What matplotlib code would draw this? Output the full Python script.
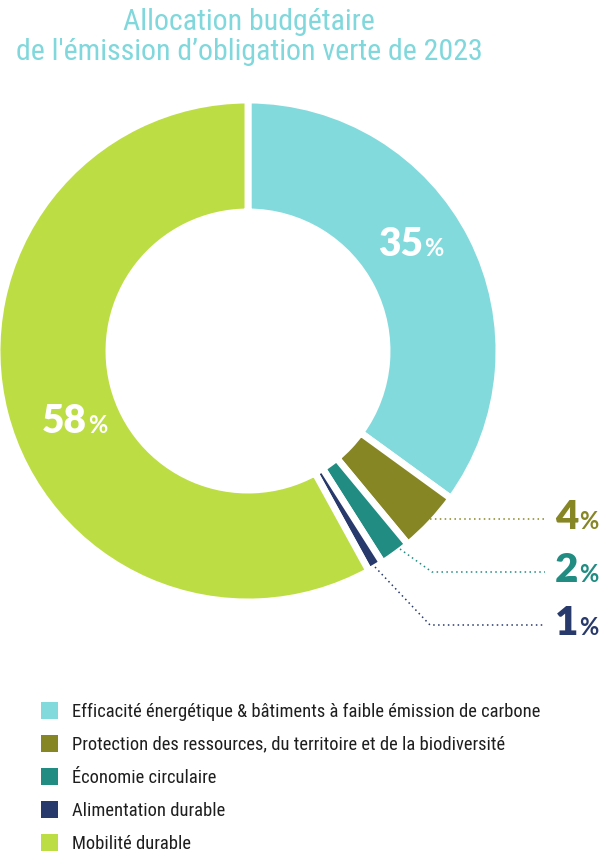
import matplotlib
matplotlib.use("Agg")
import matplotlib.pyplot as plt
from matplotlib.patches import Patch
from matplotlib import font_manager as fm

categories = ["Efficacité énergétique & bâtiments à faible émission de carbone",
              "Protection des ressources, du territoire et de la biodiversité",
              "Économie circulaire",
              "Alimentation durable",
              "Mobilité durable"]
shares = [35, 4, 2, 1, 58]
colors = ["#82dadd", "#878625", "#208c82", "#28396b", "#bddd44"]
title = "Allocation budgétaire\nde l'émission d\u2019obligation verte de 2023"

W, H = 604, 852
bold = ["Lato", "DejaVu Sans"]


def narrow_font():
    # look for a condensed regular sans face, else fall back to Roboto
    best = None
    for f in fm.fontManager.ttflist:
        name = f.name
        cond = ("Narrow" in name or "Condensed" in name
                or f.stretch in ("condensed", "semi-condensed", "extra-condensed"))
        if not cond or f.style != "normal":
            continue
        w = f.weight if isinstance(f.weight, int) else 400
        if w != 400:
            continue
        if "Mono" in name or "Serif" in name:
            continue
        if best is None or "Liberation" in name or "Roboto" in name:
            best = f
    if best is not None:
        return {"fname": best.fname}, 1.0
    return {"family": ["Roboto", "DejaVu Sans"]}, 0.86


nf, scale = narrow_font()


def py(y):
    return H - y


fig = plt.figure(figsize=(W / 100, H / 100), dpi=100)
ax = fig.add_axes([0, 0, 1, 1])

wedges, _ = ax.pie(shares, colors=colors, startangle=90, counterclock=False,
                   radius=251, center=(248, py(351)), frame=False,
                   wedgeprops=dict(width=112, edgecolor="white", linewidth=5))
ax.set_xlim(0, W)
ax.set_ylim(0, H)
ax.set_aspect("equal")
ax.axis("off")

tp = fm.FontProperties(size=21.5 * scale, **nf)
ax.text(249, py(8), title, color="#80d8dc", fontproperties=tp,
        ha="center", va="top", linespacing=1.1)

# values inside the ring
inner = [(shares[0], 423, 256), (shares[4], 87, 433)]
for v, x, y in inner:
    ax.text(x, py(y), str(v), color="white", fontsize=28, family=bold,
            weight="heavy", ha="right", va="baseline")
    ax.text(x + 1, py(y), "%", color="white", fontsize=17, family=bold,
            weight="bold", ha="left", va="baseline")

# small values with dotted leaders
leaders = [[(430, 519), (545, 519)],
           [(400, 549), (432, 572), (545, 572)],
           [(375, 567), (430, 625), (545, 625)]]
baselines = [529, 582, 635]
for i, (pts, yb) in enumerate(zip(leaders, baselines)):
    c = colors[i + 1]
    xs = [p[0] for p in pts]
    ys = [py(p[1]) for p in pts]
    ax.plot(xs, ys, color=c, lw=1.1, linestyle=(0, (1, 2.2)))
    ax.text(578, py(yb), str(shares[i + 1]), color=c, fontsize=29, family=bold,
            weight="heavy", ha="right", va="baseline")
    ax.text(579, py(yb), "%", color=c, fontsize=17, family=bold,
            weight="bold", ha="left", va="baseline")

lp = fm.FontProperties(size=13.3 * scale, **nf)
handles = [Patch(facecolor=c, edgecolor="none") for c in colors]
fig.legend(handles, categories, loc="upper left",
           bbox_to_anchor=(41 / W, 1 - 702 / H), frameon=False,
           prop=lp, labelcolor="#1e1e1e",
           handlelength=0.93 / scale, handleheight=1.05 / scale,
           handletextpad=0.74 / scale,
           labelspacing=0.76 / scale, borderpad=0, borderaxespad=0)

fig.savefig("out.png", dpi=100)
